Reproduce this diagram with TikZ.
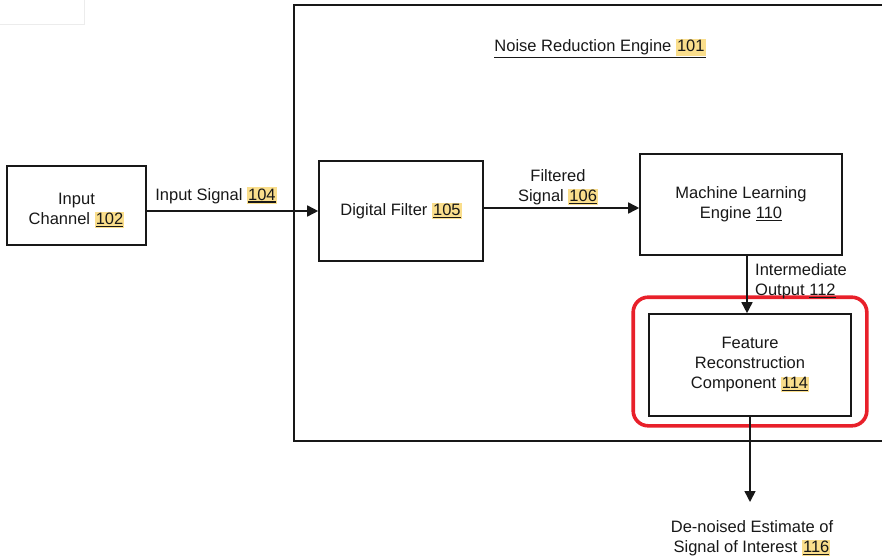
\documentclass[tikz,border=0pt]{standalone}
\usepackage{fontspec}
\setmainfont{Liberation Sans}
\usetikzlibrary{arrows.meta}

\definecolor{hlyellow}{RGB}{250,222,140}
\definecolor{ink}{RGB}{24,24,24}
\definecolor{markred}{RGB}{232,32,42}
\definecolor{faint}{RGB}{236,236,236}

% underline drawn as a rule below the baseline
\newcommand\ulbox[1]{\vtop{\hbox{#1}\kern1.3pt\hrule height 1.1pt}}
% highlighted, underlined reference number
\newcommand\refhl[1]{{\setlength\fboxsep{1pt}\colorbox{hlyellow}{\ulbox{#1}}}}
% highlight only (deep enough to sit under an underline)
\newcommand\hlonly[1]{{\setlength\fboxsep{1pt}\colorbox{hlyellow}{\rule[-3pt]{0pt}{1pt}#1}}}

\tikzset{
  every node/.style={font=\fontsize{16.5}{20}\selectfont, text=ink},
  blockbox/.style={draw=ink, line width=1.6pt, inner sep=0pt, align=center},
  txtlabel/.style={inner sep=0pt, align=center},
  flow/.style={draw=ink, line width=1.6pt, -{Triangle[length=11pt,width=11pt]}},
}

\begin{document}
\begin{tikzpicture}[x=1pt,y=-1pt]
  \useasboundingbox (0,0) rectangle (882,559);
  \clip (0,0) rectangle (882,559);

  % faint corner frame
  \draw[faint, line width=0.8pt] (0,24) -- (84,24) -- (84,0);

  % enclosing engine frame (runs off the right edge)
  \node[draw=ink, line width=1.6pt, inner sep=0pt, anchor=north west,
        minimum width=640pt, minimum height=436pt] (engine) at (293,4) {};
  \node[txtlabel, anchor=base] (title) at (600,52)
    {\ulbox{Noise Reduction Engine \hlonly{101}}};

  % blocks
  \node[blockbox, minimum width=139pt, minimum height=79pt] (input) at (76.5,205.5)
    {\rule{0pt}{22pt}Input\\Channel \refhl{102}};
  \node[blockbox, minimum width=164pt, minimum height=100pt] (filter) at (401,211)
    {Digital Filter \refhl{105}};
  \node[blockbox, minimum width=202pt, minimum height=101pt] (ml) at (741,204.5)
    {Machine Learning\\Engine \ulbox{110}};
  \node[blockbox, minimum width=202pt, minimum height=102pt] (feature) at (750,365)
    {Feature\\Reconstruction\\Component \refhl{114}};

  % highlight ring around the reconstruction block
  \draw[markred, line width=3.6pt, rounded corners=15pt]
    ([shift={(-15pt,16pt)}]feature.north west) rectangle ([shift={(15pt,-9pt)}]feature.south east);

  % output end point
  \coordinate (out) at (750,502);

  % connectors
  \draw[flow] (input.east |- filter.west) -- (filter.west);
  \draw[flow] (filter.east |- 0,208) -- (ml.west |- 0,208);
  \draw[flow] (ml.south -| 747,0) -- (feature.north -| 747,0);
  \draw[flow] (feature.south -| out) -- (out);

  % connector labels
  \node[txtlabel, anchor=base] (sig104) at (216,200) {Input Signal \refhl{104}};
  \node[txtlabel] (sig106) at (558,187) {Filtered\\Signal \refhl{106}};
  \node[txtlabel, anchor=west, align=left] (out112) at (755,281)
    {Intermediate\\Output \ulbox{112}};
  \node[txtlabel] (est116) at (752,538.5)
    {De-noised Estimate of\\Signal of Interest \refhl{116}};
\end{tikzpicture}
\end{document}
